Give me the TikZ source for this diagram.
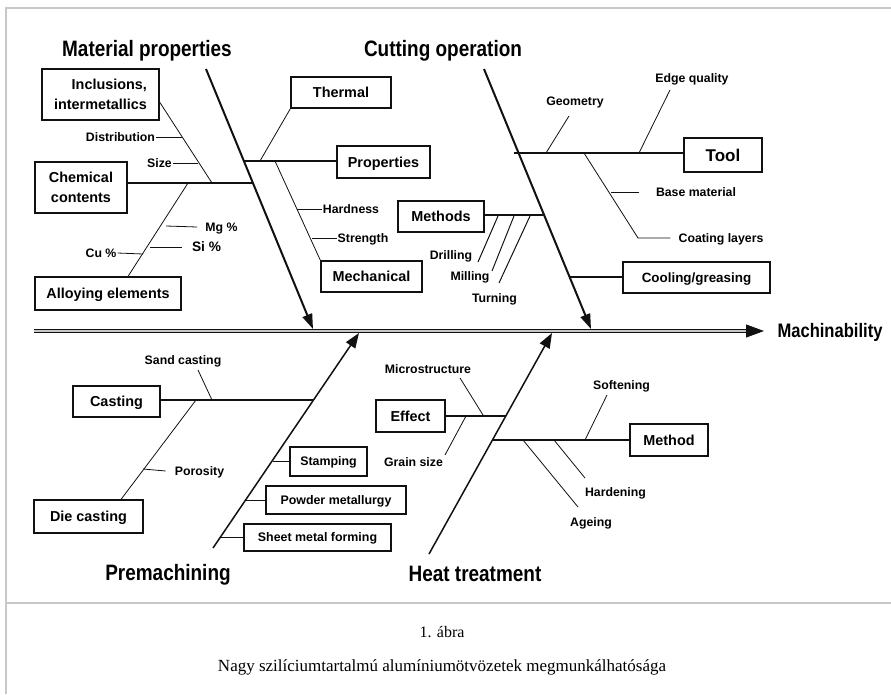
\documentclass[tikz,border=0pt]{standalone}
\usepackage{fontspec}
\setmainfont{Liberation Sans}
\newfontfamily\narrowfont[FakeStretch=0.85]{Liberation Sans}
\newfontfamily\capfont{Liberation Serif}
\usetikzlibrary{arrows.meta}
\definecolor{framegray}{HTML}{C8C8C8}
\definecolor{ink}{HTML}{111111}
\tikzset{
  box/.style={draw=ink, line width=1.2pt, inner sep=0pt, align=center, font=\bfseries\fontsize{14.4}{20}\selectfont},
  one/.style={text height=10.3pt, text depth=0pt},
  smallbox/.style={box, font=\bfseries\fontsize{12.4}{14}\selectfont, text height=8.9pt, text depth=0pt},
  lbl/.style={inner sep=1pt, font=\bfseries\fontsize{12.3}{14}\selectfont, text height=8.8pt, text depth=0pt},
  ttl/.style={inner sep=0pt, font=\narrowfont\bfseries\fontsize{22.3}{26}\selectfont, text height=16pt, text depth=0pt},
  bone/.style={ink, line width=2pt, -{Triangle[length=15pt,width=10pt]}},
  lowbone/.style={ink, line width=1.5pt, -{Triangle[length=15pt,width=11pt]}},
  branch/.style={ink, line width=2pt},
  midbranch/.style={ink, line width=1.4pt},
  twig/.style={ink, line width=0.8pt},
  caption/.style={inner sep=0pt, font=\capfont\fontsize{16}{18}\selectfont}
}
\begin{document}
\begin{tikzpicture}[x=1pt,y=-1pt]
\useasboundingbox (0,0) rectangle (891,694);
% frame
\draw[framegray, line width=2pt] (6,694) -- (6,7.5) -- (891,7.5);
\draw[framegray, line width=2pt] (6,603) -- (891,603);

% titles
\node[ttl] (tmat) at (147,48) {Material properties};
\node[ttl] (tcut) at (443,48) {Cutting operation};
\node[ttl] (tpre) at (168,572) {Premachining};
\node[ttl] (theat) at (475,573) {Heat treatment};
\node[ttl, font=\narrowfont\bfseries\fontsize{19.5}{22}\selectfont, text height=14pt] (mach) at (830,330) {Machinability};

% boxes
\node[box, align=right, minimum width=117, minimum height=51] (incl) at (100.5,94.5) {Inclusions,\\intermetallics};
\node[box, minimum width=92, minimum height=51] (chem) at (81,187.5) {Chemical\\contents};
\node[box, one, minimum width=146, minimum height=33] (alloy) at (108,293.5) {Alloying elements};
\node[box, one, minimum width=100, minimum height=31] (thermal) at (341,92.5) {Thermal};
\node[box, one, minimum width=93, minimum height=32] (props) at (383.5,162) {Properties};
\node[box, one, minimum width=101, minimum height=31] (mech) at (371.5,276.5) {Mechanical};
\node[box, one, minimum width=86, minimum height=31] (methods) at (441,216.5) {Methods};
\node[box, font=\bfseries\fontsize{17}{20}\selectfont, text height=12.2pt, text depth=0pt, minimum width=78, minimum height=34] (tool) at (723,155) {Tool};
\node[box, one, font=\bfseries\fontsize{13.4}{16}\selectfont, text height=9.6pt, minimum width=147, minimum height=31] (cool) at (696.5,277.5) {Cooling/greasing};
\node[box, one, minimum width=87, minimum height=31] (casting) at (116.5,401.5) {Casting};
\node[box, one, minimum width=109, minimum height=33] (diecast) at (88.5,516.5) {Die casting};
\node[smallbox, minimum width=77, minimum height=29] (stamping) at (328.5,461.5) {Stamping};
\node[smallbox, minimum width=140, minimum height=28] (powder) at (336,500) {Powder metallurgy};
\node[smallbox, minimum width=147, minimum height=27] (sheet) at (317.5,537.5) {Sheet metal forming};
\node[box, one, minimum width=69, minimum height=32] (effect) at (410.5,416) {Effect};
\node[box, one, minimum width=78, minimum height=32] (method) at (669,440) {Method};

% labels
\node[lbl] (dist) at (120.5,137) {Distribution};
\node[lbl] (size) at (159.5,163) {Size};
\node[lbl] (mg) at (221.5,227) {Mg \%};
\node[lbl, font=\bfseries\fontsize{13.7}{15}\selectfont, text height=9.8pt] (si) at (206.5,247) {Si \%};
\node[lbl] (cu) at (101,253) {Cu \%};
\node[lbl] (hard) at (351,209) {Hardness};
\node[lbl] (str) at (363,238) {Strength};
\node[lbl] (drill) at (451,255) {Drilling};
\node[lbl] (mill) at (470,276) {Milling};
\node[lbl] (turn) at (494.5,298) {Turning};
\node[lbl] (geo) at (575,101) {Geometry};
\node[lbl] (edge) at (692,78) {Edge quality};
\node[lbl] (base) at (696,192) {Base material};
\node[lbl] (coat) at (721,238) {Coating layers};
\node[lbl] (sand) at (183,360) {Sand casting};
\node[lbl] (poro) at (199.5,471) {Porosity};
\node[lbl] (micro) at (428,369) {Microstructure};
\node[lbl] (grain) at (413.5,462) {Grain size};
\node[lbl] (soft) at (621.5,385) {Softening};
\node[lbl] (hardn) at (615.5,492) {Hardening};
\node[lbl] (age) at (591,522) {Ageing};

% captions
\node[caption] (fig) at (442,632) {1. ábra};
\node[caption, font=\capfont\fontsize{17}{19}\selectfont] (cap) at (442,667) {Nagy szilíciumtartalmú alumíniumötvözetek megmunkálhatósága};

% spine
\coordinate (spS) at (34,331);
\coordinate (spT) at (746,331);
\coordinate (spE) at (764,331);
\draw[ink, line width=3.8pt] (spS) -- (spT);
\draw[white!55!gray, line width=1.2pt] (spS) -- (spT);
\draw[ink, line width=1pt, -{Triangle[length=18pt,width=13pt]}] (spT) -- (spE);

% material properties
\coordinate (mpS) at (206,69);
\coordinate (mpE) at (313,329);
\draw[bone] (mpS) -- (mpE);
\coordinate (jChem) at (253,183);
\draw[branch] (chem.east |- jChem) -- (jChem);
\coordinate (jIncl) at (212,183);
\draw[twig] ([yshift=-7.5pt]incl.east) -- (jIncl);
\coordinate (jDist) at (182,137);
\draw[twig] (dist.east) -- (jDist);
\coordinate (jSize) at (198,163);
\draw[twig] (size.east) -- (jSize);
\coordinate (jAlloy) at (188,183);
\draw[twig] ([xshift=20pt]alloy.north) -- (jAlloy);
\coordinate (mgA) at (166,226);
\draw[twig] (mgA) -- ([xshift=-7pt]mg.west);
\coordinate (siA) at (150,247);
\draw[twig] (siA) -- ([xshift=-9pt]si.west);
\coordinate (cuA) at (143,254);
\draw[twig] (cu.east) -- (cuA);
\coordinate (jTherm) at (260,161);
\draw[twig] (thermal.south west) -- (jTherm);
\coordinate (jProp) at (244,161);
\draw[branch] (jProp) -- (props.west |- jProp);
\coordinate (jMech) at (275,161);
\draw[twig] (jMech) -- (mech.north west);
\coordinate (hardA) at (297,209);
\draw[twig] (hardA) -- (hard.west);
\coordinate (strA) at (312,238);
\draw[twig] (strA) -- (str.west);

% cutting operation
\coordinate (coS) at (484,69);
\coordinate (coE) at (591,329);
\draw[bone] (coS) -- (coE);
\coordinate (jTool) at (514,153);
\draw[branch] (jTool) -- (tool.west |- jTool);
\coordinate (geoA) at (546,153);
\coordinate (geoB) at (569,116);
\draw[twig] (geoA) -- (geoB);
\coordinate (edgeA) at (639,153);
\coordinate (edgeB) at (670,90);
\draw[twig] (edgeA) -- (edgeB);
\coordinate (coatJ) at (584,153);
\coordinate (coatK) at (638,238);
\draw[twig] (coatJ) -- (coatK) -- ([xshift=-7pt]coat.west);
\coordinate (baseA) at (611,192);
\draw[twig] (baseA) -- ([xshift=-16pt]base.west);
\coordinate (jCool) at (570,277);
\draw[branch] (jCool) -- (cool.west |- jCool);
\coordinate (jMeth) at (543,215);
\draw[midbranch] (methods.east |- jMeth) -- (jMeth);
\coordinate (drA) at (478,262);
\coordinate (drB) at (498,216);
\draw[twig, line width=1pt] (drA) -- (drB);
\coordinate (miA) at (492,271);
\coordinate (miB) at (514,216);
\draw[twig, line width=1pt] (miA) -- (miB);
\coordinate (tuA) at (499,283);
\coordinate (tuB) at (530,216);
\draw[twig, line width=1pt] (tuA) -- (tuB);

% premachining
\coordinate (prS) at (213,548);
\coordinate (prE) at (359,333);
\draw[lowbone] (prS) -- (prE);
\coordinate (jCast) at (313,400);
\draw[branch] (casting.east |- jCast) -- (jCast);
\coordinate (sandA) at (212,400);
\coordinate (sandB) at (198,370);
\draw[twig] (sandA) -- (sandB);
\coordinate (dieJ) at (196,400);
\draw[twig] (dieJ) -- ([xshift=32.5pt]diecast.north);
\coordinate (porA) at (143,469);
\draw[twig] (porA) -- ([xshift=-8pt]poro.west);
\coordinate (jStamp) at (273,461.5);
\draw[twig, line width=1pt] (jStamp) -- (stamping.west);
\coordinate (jPow) at (246,500);
\draw[twig, line width=1pt] (jPow) -- (powder.west);
\coordinate (jSheet) at (220,537.5);
\draw[twig, line width=1pt] (jSheet) -- (sheet.west);

% heat treatment
\coordinate (htS) at (429,554);
\coordinate (htE) at (552,333);
\draw[lowbone] (htS) -- (htE);
\coordinate (jEff) at (506,416);
\draw[midbranch, line width=1.2pt] (effect.east) -- (jEff);
\coordinate (mcA) at (483,415);
\coordinate (mcB) at (460,378);
\draw[twig] (mcA) -- (mcB);
\coordinate (grA) at (466,416);
\coordinate (grB) at (445,455);
\draw[twig] (grA) -- (grB);
\coordinate (jMethod) at (493,440);
\draw[midbranch, line width=1.2pt] (jMethod) -- (method.west);
\coordinate (soA) at (585,440);
\coordinate (soB) at (607,395);
\draw[twig] (soA) -- (soB);
\coordinate (haA) at (554,440);
\coordinate (haB) at (585,478);
\draw[twig] (haA) -- (haB);
\coordinate (agA) at (523,440);
\coordinate (agB) at (578,507);
\draw[twig] (agA) -- (agB);
\end{tikzpicture}
\end{document}
